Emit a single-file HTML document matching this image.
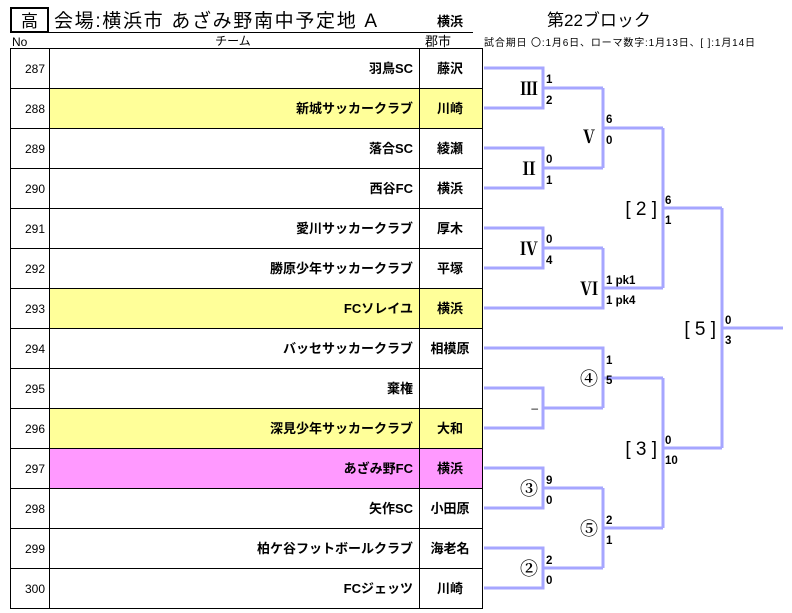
<!DOCTYPE html>
<html><head><meta charset="utf-8"><style>
html,body{margin:0;padding:0;background:#fff;}
svg{display:block;}
text{font-family:"Liberation Sans","Noto Sans CJK JP",sans-serif;fill:#000;}
.t{font-size:13px;font-weight:bold;text-anchor:end;}
.c{font-size:13px;font-weight:bold;text-anchor:middle;}
.n{font-size:12px;text-anchor:end;}
.s{font-size:11.5px;font-weight:bold;}
.r{font-family:"Liberation Serif","Noto Serif CJK SC",serif;font-size:18px;text-anchor:end;font-weight:bold;}
.b{font-size:19px;text-anchor:end;}
.l{fill:none;stroke:#a6a6ff;stroke-width:3;}
</style></head><body>
<svg width="792" height="613" viewBox="0 0 792 613" xmlns="http://www.w3.org/2000/svg">
<rect x="11" y="8" width="37" height="24" fill="none" stroke="#000" stroke-width="2"/>
<text x="29.5" y="27" font-size="17" text-anchor="middle">高</text>
<text x="54" y="27" font-size="19" textLength="323" lengthAdjust="spacing">会場:横浜市  あざみ野南中予定地  A</text>
<text x="450" y="26" class="c" font-size="14">横浜</text>
<line x1="48" y1="32.5" x2="473" y2="32.5" stroke="#000" stroke-width="1"/>
<text x="12" y="46" font-size="12">No</text>
<text x="233" y="45" font-size="12" text-anchor="middle">チーム</text>
<text x="438" y="46" font-size="13" text-anchor="middle">郡市</text>
<text x="547" y="26" font-size="17">第22ブロック</text>
<text x="484" y="46" font-size="10" textLength="271" lengthAdjust="spacing">試合期日 〇:1月6日、ローマ数字:1月13日、[ ]:1月14日</text>
<g>
<rect x="49" y="89" width="434" height="40" fill="#ffff99"/>
<rect x="49" y="289" width="434" height="40" fill="#ffff99"/>
<rect x="49" y="409" width="434" height="40" fill="#ffff99"/>
<rect x="49" y="449" width="434" height="40" fill="#ff99ff"/>
</g>
<g stroke="#000" stroke-width="1" fill="none">
<rect x="10.5" y="48.5" width="472" height="560"/>
<line x1="49.5" y1="48" x2="49.5" y2="609"/>
<line x1="419.5" y1="48" x2="419.5" y2="609"/>
<path d="M10 88.5H483M10 128.5H483M10 168.5H483M10 208.5H483M10 248.5H483M10 288.5H483M10 328.5H483M10 368.5H483M10 408.5H483M10 448.5H483M10 488.5H483M10 528.5H483M10 568.5H483"/>
</g>
<g>
<text class="n" x="45" y="73">287</text><text class="t" x="413" y="73">羽鳥SC</text><text class="c" x="450" y="73">藤沢</text>
<text class="n" x="45" y="113">288</text><text class="t" x="413" y="113">新城サッカークラブ</text><text class="c" x="450" y="113">川崎</text>
<text class="n" x="45" y="153">289</text><text class="t" x="413" y="153">落合SC</text><text class="c" x="450" y="153">綾瀬</text>
<text class="n" x="45" y="193">290</text><text class="t" x="413" y="193">西谷FC</text><text class="c" x="450" y="193">横浜</text>
<text class="n" x="45" y="233">291</text><text class="t" x="413" y="233">愛川サッカークラブ</text><text class="c" x="450" y="233">厚木</text>
<text class="n" x="45" y="273">292</text><text class="t" x="413" y="273">勝原少年サッカークラブ</text><text class="c" x="450" y="273">平塚</text>
<text class="n" x="45" y="313">293</text><text class="t" x="413" y="313">FCソレイユ</text><text class="c" x="450" y="313">横浜</text>
<text class="n" x="45" y="353">294</text><text class="t" x="413" y="353">バッセサッカークラブ</text><text class="c" x="450" y="353">相模原</text>
<text class="n" x="45" y="393">295</text><text class="t" x="413" y="393">棄権</text>
<text class="n" x="45" y="433">296</text><text class="t" x="413" y="433">深見少年サッカークラブ</text><text class="c" x="450" y="433">大和</text>
<text class="n" x="45" y="473">297</text><text class="t" x="413" y="473">あざみ野FC</text><text class="c" x="450" y="473">横浜</text>
<text class="n" x="45" y="513">298</text><text class="t" x="413" y="513">矢作SC</text><text class="c" x="450" y="513">小田原</text>
<text class="n" x="45" y="553">299</text><text class="t" x="413" y="553">柏ケ谷フットボールクラブ</text><text class="c" x="450" y="553">海老名</text>
<text class="n" x="45" y="593">300</text><text class="t" x="413" y="593">FCジェッツ</text><text class="c" x="450" y="593">川崎</text>
</g>
<g class="l">
<path d="M484 68H543V108H484M543 88H603"/>
<path d="M484 148H543V188H484M543 168H603"/>
<path d="M603 88V168M603 128H663"/>
<path d="M484 228H543V268H484M543 248H603"/>
<path d="M603 248V308H484M603 288H663"/>
<path d="M663 128V288M663 208H722"/>
<path d="M484 348H603V408M484 388H543V428H484M543 408H603M603 378H663"/>
<path d="M484 468H543V508H484M543 488H603"/>
<path d="M484 548H543V588H484M543 568H603"/>
<path d="M603 488V568M603 528H663"/>
<path d="M663 378V528M663 448H722"/>
<path d="M722 208V448M722 328H783"/>
</g>
<g>
<text class="r" x="538" y="95">Ⅲ</text><text class="s" x="546" y="83">1</text><text class="s" x="546" y="104">2</text>
<text class="r" x="538" y="175">Ⅱ</text><text class="s" x="546" y="163">0</text><text class="s" x="546" y="184">1</text>
<text class="r" x="598" y="143">Ⅴ</text><text class="s" x="606" y="123">6</text><text class="s" x="606" y="144">0</text>
<text class="r" x="538" y="255">Ⅳ</text><text class="s" x="546" y="243">0</text><text class="s" x="546" y="264">4</text>
<text class="r" x="598" y="295">Ⅵ</text><text class="s" x="606" y="284">1 pk1</text><text class="s" x="606" y="304">1 pk4</text>
<text class="b" x="657" y="215">[ 2 ]</text><text class="s" x="665" y="204">6</text><text class="s" x="665" y="224">1</text>
<text class="b" x="716" y="335">[ 5 ]</text><text class="s" x="725" y="324">0</text><text class="s" x="725" y="344">3</text>
<text class="r" x="598" y="385" font-weight="normal">④</text><text class="s" x="606" y="364">1</text><text class="s" x="606" y="384">5</text>
<text x="538" y="412" font-size="12" text-anchor="end">–</text>
<text class="b" x="657" y="455">[ 3 ]</text><text class="s" x="665" y="444">0</text><text class="s" x="665" y="464">10</text>
<text class="r" x="538" y="495" font-weight="normal">③</text><text class="s" x="546" y="484">9</text><text class="s" x="546" y="504">0</text>
<text class="r" x="598" y="535" font-weight="normal">⑤</text><text class="s" x="606" y="524">2</text><text class="s" x="606" y="544">1</text>
<text class="r" x="538" y="575" font-weight="normal">②</text><text class="s" x="546" y="564">2</text><text class="s" x="546" y="584">0</text>
</g>
</svg>
</body></html>
